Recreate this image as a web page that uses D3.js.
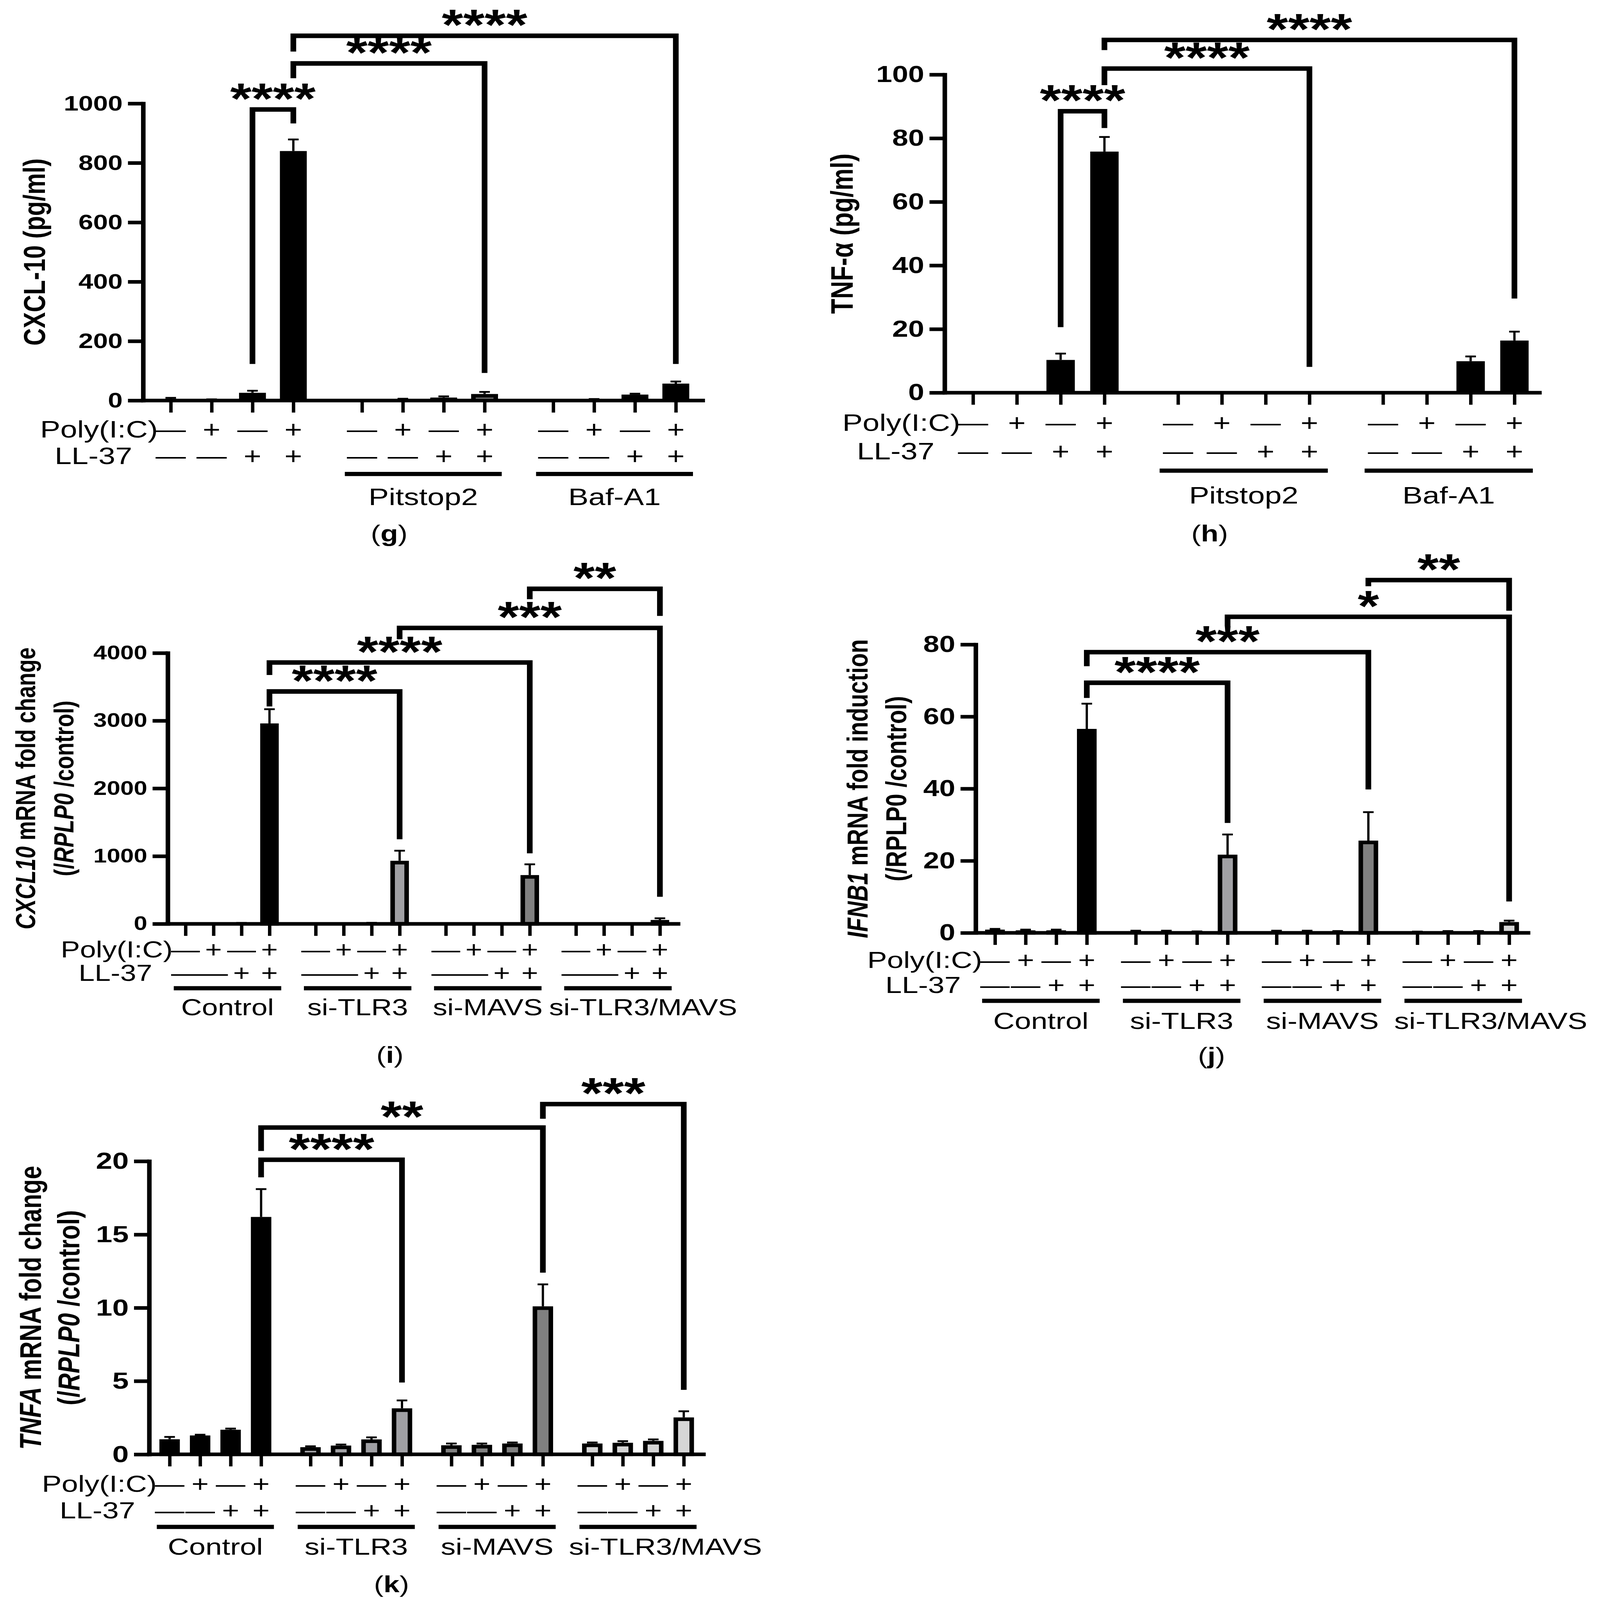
<!DOCTYPE html>
<html><head><meta charset="utf-8">
<script src="https://cdn.jsdelivr.net/npm/d3@7/dist/d3.min.js"></script>
<style>
html,body{margin:0;padding:0;background:#fff;overflow:hidden}
svg{display:block}
text{font-family:"Liberation Sans",Arial,sans-serif;fill:#000}
</style>
</head><body>
<svg id="c"></svg>
<script>
// ---------------- DATA ----------------
const polyIC = ["—","+","—","+"];
const ll37   = ["—","—","+","+"];

const gGroupLabels = ["", "Pitstop2", "Baf-A1"];
const gValues = [6, 3, 26, 840,   0, 5, 10, 22,   0, 4, 20, 57];
const gErrors = [3, 1, 7, 39,     0, 1, 4, 7,     0, 1, 3, 7];
const gTicks  = [0, 200, 400, 600, 800, 1000];
const gBrackets = [
  {a:2, b:3,  level:980,  aEnd:123,  bEnd:933, label:"****"},
  {a:3, b:7,  level:1135, aEnd:1085, bEnd:93,  label:"****"},
  {a:3, b:11, level:1228, aEnd:1175, bEnd:123, label:"****"}
];

const hGroupLabels = ["", "Pitstop2", "Baf-A1"];
const hValues = [0, 0, 10.3, 75.8,  0, 0, 0, 0,  0, 0, 9.9, 16.4];
const hErrors = [0, 0, 2.0, 4.6,    0, 0, 0, 0,  0, 0, 1.5, 2.8];
const hTicks  = [0, 20, 40, 60, 80, 100];
const hBrackets = [
  {a:2, b:3,  level:88.5,  aEnd:20.6,  bEnd:83.2, label:"****"},
  {a:3, b:7,  level:101.9, aEnd:96.7,  bEnd:8.1,  label:"****"},
  {a:3, b:11, level:110.9, aEnd:107.7, bEnd:29.6, label:"****"}
];

const siGroupLabels = ["Control", "si-TLR3", "si-MAVS", "si-TLR3/MAVS"];

const iValues = [2, 2, 10, 2960,  2, 2, 12, 931,  2, 2, 3, 720,  2, 2, 3, 57];
const iErrors = [0, 0, 3, 210,    0, 0, 3, 149,   0, 0, 0, 159,  0, 0, 0, 25];
const iTicks  = [0, 1000, 2000, 3000, 4000];
const iBrackets = [
  {a:3,  b:7,  level:3432, aEnd:3211, bEnd:1249, label:"****"},
  {a:3,  b:11, level:3860, aEnd:3675, bEnd:1042, label:"****"},
  {a:7,  b:15, level:4370, aEnd:4203, bEnd:399,  label:"***"},
  {a:11, b:15, level:4948, aEnd:4795, bEnd:4548, label:"**"}
];

const jValues = [0.9, 0.7, 0.7, 56.6,  0.5, 0.5, 0.3, 21.7,  0.5, 0.5, 0.4, 25.6,  0.3, 0.4, 0.4, 3.0];
const jErrors = [0.2, 0.2, 0.2, 7.0,   0.1, 0.1, 0.1, 5.6,   0.1, 0.1, 0.1, 7.9,   0.05, 0.1, 0.1, 0.4];
const jTicks  = [0, 20, 40, 60, 80];
const jBrackets = [
  {a:3,  b:7,  level:69.4, aEnd:65.2, bEnd:30.5, label:"****"},
  {a:3,  b:11, level:77.9, aEnd:74.0, bEnd:39.8, label:"***"},
  {a:7,  b:15, level:87.7, aEnd:85.1, bEnd:8.7,  label:"*"},
  {a:11, b:15, level:97.9, aEnd:96.2, bEnd:89.4, label:"**"}
];

const kValues = [1.03, 1.29, 1.68, 16.2,  0.49, 0.6, 1.02, 3.14,  0.62, 0.65, 0.74, 10.1,  0.74, 0.79, 0.92, 2.52];
const kErrors = [0.16, 0.05, 0.08, 1.9,   0.06, 0.07, 0.14, 0.54,  0.12, 0.09, 0.07, 1.5,   0.07, 0.11, 0.1, 0.42];
const kTicks  = [0, 5, 10, 15, 20];
const kBrackets = [
  {a:3,  b:7,  level:20.1, aEnd:18.9, bEnd:4.9,  label:"****"},
  {a:3,  b:11, level:22.3, aEnd:20.7, bEnd:12.4, label:"**"},
  {a:11, b:15, level:23.9, aEnd:22.9, bEnd:4.4,  label:"***"}
];

const siFills = ["#000000", "#a0a0a4", "#808080", "#d6d6d6"];
const ghFills = ["#000000", "#808080", "#000000"];

// ---------------- LAYOUT ----------------
const W = 4226, H = 5317;
const svg = d3.select("#c")
  .attr("width", window.innerWidth || W)
  .attr("height", window.innerHeight || H)
  .attr("viewBox", `0 0 ${W} ${H}`)
  .attr("preserveAspectRatio", "none");
svg.append("rect").attr("width",W).attr("height",H).attr("fill","#fff");

const panels = [
  {id:"g", values:gValues, errors:gErrors, ticks:gTicks, brackets:gBrackets, groups:gGroupLabels, fills:ghFills,
   xAxis:378, xEnd:1862, y0:1331, yTop:344, yMax:1000, xFirst:451, xLast:1785, gapExtra:0.68,
   barW:71, tickFont:70, rowFont:80, polyY:1426, llY:1514, lineY:1575, grpY:1651,
   labelX:1028, labelY:1772, llEnd:102,
   title:[[{t:"CXCL-10 (pg/ml)"}]], titleX:[90], titleFont:80},
  {id:"h", values:hValues, errors:hErrors, ticks:hTicks, brackets:hBrackets, groups:hGroupLabels, fills:["#000","#000","#000"],
   xAxis:2495, xEnd:4072, y0:1305, yTop:248, yMax:100, xFirst:2570, xLast:4000, gapExtra:0.68,
   barW:75, tickFont:76, rowFont:80, polyY:1404, llY:1498, lineY:1564, grpY:1645,
   labelX:3195, labelY:1772, llEnd:102,
   title:[[{t:"TNF-α (pg/ml)"}]], titleX:[2223], titleFont:82},
  {id:"i", values:iValues, errors:iErrors, ticks:iTicks, brackets:iBrackets, groups:siGroupLabels, fills:siFills,
   xAxis:443, xEnd:1797, y0:3070, yTop:2170, yMax:4000, xFirst:490, xLast:1743, gapExtra:0.65,
   barW:49, tickFont:64, rowFont:76, polyY:3155, llY:3233, lineY:3284, grpY:3347,
   labelX:1030, labelY:3505, llEnd:88,
   title:[[{t:"CXCL10",i:1},{t:" mRNA fold change"}],[{t:"(/"},{t:"RPLP0",i:1},{t:" /control)"}]],
   titleX:[67,168], titleFont:72},
  {id:"j", values:jValues, errors:jErrors, ticks:jTicks, brackets:jBrackets, groups:siGroupLabels, fills:siFills,
   xAxis:2577, xEnd:4042, y0:3100, yTop:2142, yMax:80, xFirst:2628, xLast:3986, gapExtra:0.6,
   barW:52, tickFont:76, rowFont:78, polyY:3190, llY:3272, lineY:3326, grpY:3392,
   labelX:3200, labelY:3508, llEnd:90,
   title:[[{t:"IFNB1",i:1},{t:" mRNA fold induction"}],[{t:"(/RPLP0 /control)"}]],
   titleX:[2264,2366], titleFont:76},
  {id:"k", values:kValues, errors:kErrors, ticks:kTicks, brackets:kBrackets, groups:siGroupLabels, fills:siFills,
   xAxis:394, xEnd:1864, y0:4833, yTop:3859, yMax:20, xFirst:448, xLast:1806, gapExtra:0.62,
   barW:54, tickFont:78, rowFont:78, polyY:4930, llY:5018, lineY:5074, grpY:5139,
   labelX:1034, labelY:5264, llEnd:91,
   title:[[{t:"TNFA",i:1},{t:" mRNA fold change"}],[{t:"(/"},{t:"RPLP0",i:1},{t:" /control)"}]],
   titleX:[80,181], titleFont:80}
];

function drawPanel(p) {
  const G = svg.append("g").attr("class","panel-"+p.id);
  const n = p.values.length;
  const slot = i => i + Math.floor(i/4) * p.gapExtra;
  const x = d3.scaleLinear().domain([0, slot(n-1)]).range([p.xFirst, p.xLast]);
  const y = d3.scaleLinear().domain([0, p.yMax]).range([p.y0, p.yTop]);
  const sp = x(1) - x(0);
  const sw = 12;
  const idx = d3.range(n);

  // bars
  G.append("g").selectAll("rect").data(idx.filter(i => p.values[i] > 0)).join("rect")
    .attr("x", i => x(slot(i)) - p.barW/2 + sw/2)
    .attr("width", p.barW - sw)
    .attr("y", i => y(p.values[i]) + sw/2)
    .attr("height", i => Math.max(0, y(0) - y(p.values[i]) - sw/2))
    .attr("fill", i => p.fills[Math.floor(i/4)])
    .attr("stroke", "#000").attr("stroke-width", sw);

  // error bars (upper only)
  const eg = G.append("g").attr("stroke","#000").attr("stroke-width",6);
  idx.filter(i => p.errors[i] > 0).forEach(i => {
    const cx = x(slot(i));
    eg.append("line").attr("x1",cx).attr("x2",cx)
      .attr("y1", y(p.values[i])).attr("y2", y(p.values[i] + p.errors[i]));
    eg.append("line").attr("x1",cx-14).attr("x2",cx+14)
      .attr("y1", y(p.values[i] + p.errors[i])).attr("y2", y(p.values[i] + p.errors[i]));
  });

  // y axis
  const ya = G.append("g").attr("transform", `translate(${p.xAxis},0)`)
    .call(d3.axisLeft(y).tickValues(p.ticks).tickSize(40).tickSizeOuter(0).tickPadding(14).tickFormat(d3.format("d")));
  ya.select(".domain").attr("stroke","#000").attr("stroke-width",12).attr("stroke-linecap","square");
  ya.selectAll(".tick line").attr("stroke","#000").attr("stroke-width",12);
  ya.selectAll(".tick text").attr("font-size",p.tickFont).attr("font-weight","bold")
    .attr("font-family",'"Liberation Sans",Arial,sans-serif').attr("fill","#000");

  // x axis
  G.append("line").attr("x1", p.xAxis - 6).attr("x2", p.xEnd)
    .attr("y1", y(0)).attr("y2", y(0)).attr("stroke","#000").attr("stroke-width",12);
  const xa = G.append("g").attr("transform", `translate(0,${y(0)})`)
    .call(d3.axisBottom(x).tickValues(idx.map(slot)).tickSize(40).tickSizeOuter(0).tickFormat(() => ""));
  xa.select(".domain").remove();
  xa.selectAll(".tick line").attr("stroke","#000").attr("stroke-width",9);

  // treatment rows
  const rows = G.append("g").attr("font-size", p.rowFont);
  idx.forEach(i => {
    rows.append("text").attr("x", x(slot(i))).attr("y", p.polyY).attr("dy","0.35em")
      .attr("text-anchor","middle").text(polyIC[i%4]);
    rows.append("text").attr("x", x(slot(i))).attr("y", p.llY).attr("dy","0.35em")
      .attr("text-anchor","middle").text(ll37[i%4]);
  });
  rows.append("text").attr("x", x(0) - 34).attr("y", p.polyY).attr("dy","0.35em")
    .attr("text-anchor","end").text("Poly(I:C)");
  rows.append("text").attr("x", x(0) - p.llEnd).attr("y", p.llY).attr("dy","0.35em")
    .attr("text-anchor","end").text("LL-37");

  // group lines & labels
  p.groups.forEach((lab, gi) => {
    if (!lab) return;
    const xa1 = x(slot(gi*4)) - 0.42*sp, xa2 = x(slot(gi*4+3)) + 0.42*sp;
    G.append("line").attr("x1",xa1).attr("x2",xa2).attr("y1",p.lineY).attr("y2",p.lineY)
      .attr("stroke","#000").attr("stroke-width",14);
    const shift = lab.length > 10 ? sp*0.9 : 0;
    G.append("text").attr("x",(xa1+xa2)/2 + shift).attr("y",p.grpY).attr("dy","0.35em")
      .attr("text-anchor","middle").attr("font-size",p.rowFont).text(lab);
  });

  // y title
  const cy = (p.y0 + p.yTop)/2;
  p.title.forEach((line, li) => {
    const t = G.append("text").attr("transform", `translate(${p.titleX[li]},${cy}) rotate(-90)`)
      .attr("text-anchor","middle").attr("dy","0.36em").attr("font-weight","bold").attr("font-size",p.titleFont);
    line.forEach(seg => {
      t.append("tspan").attr("font-style", seg.i ? "italic" : "normal").text(seg.t);
    });
  });

  // significance brackets
  const bg = G.append("g");
  p.brackets.forEach(b => {
    const xa1 = x(slot(b.a)), xb1 = x(slot(b.b));
    bg.append("path")
      .attr("d", `M${xa1},${y(b.aEnd)}V${y(b.level)}H${xb1}V${y(b.bEnd)}`)
      .attr("fill","none").attr("stroke","#000").attr("stroke-width",15)
      .attr("stroke-linejoin","miter");
    bg.append("text").attr("x",(xa1+xb1)/2).attr("y", y(b.level) + 14)
      .attr("text-anchor","middle").attr("font-size",145).attr("font-weight","bold").text(b.label);
  });

  // panel label
  const pl = G.append("text").attr("x",p.labelX).attr("y",p.labelY).attr("dy","0.35em")
    .attr("text-anchor","middle").attr("font-size",76)
    .attr("font-family",'"Liberation Serif","Times New Roman",serif');
  pl.append("tspan").text("(");
  pl.append("tspan").attr("font-weight","bold").text(p.id);
  pl.append("tspan").text(")");
}

panels.forEach(drawPanel);
</script>
</body></html>
